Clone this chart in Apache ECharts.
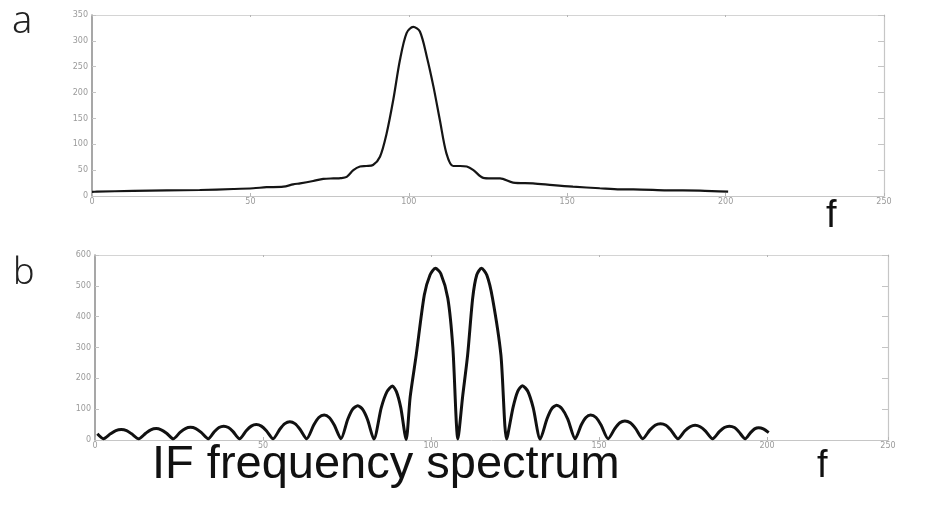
<!DOCTYPE html>
<html>
<head>
<meta charset="utf-8">
<script src="https://cdn.jsdelivr.net/npm/echarts@6/dist/echarts.min.js"></script>
<style>
html,body{margin:0;padding:0;background:#fff;}
#c{width:952px;height:512px;}
</style>
</head>
<body>
<div id="c"></div>
<script>
// ---- panel a: spectrum (f, amplitude) ----
const fA = [0, 1.5, 13, 23.6, 34, 44.6, 50.9, 55.1, 60.4, 63.5, 65.7, 69.8, 73, 76.2, 78.5, 80.4, 82.5, 84.6, 86.6, 88.7, 90.9, 93, 95.1, 97.2, 99.3, 101.4, 103.5, 105.7, 107.8, 109.8, 111.9, 114, 116.2, 118.3, 120.4, 123.5, 126, 128.8, 132.9, 139.2, 145.5, 151.8, 160.3, 166.7, 170.9, 181.4, 191.9, 200.8];
const vA = [8, 8.3, 10, 10.8, 11.6, 13.5, 15, 17, 18, 22.5, 24.5, 29, 33, 34, 34.5, 37, 50, 57, 58, 60, 76, 121, 186, 263, 315, 327, 318, 269, 211, 147, 82, 58, 58, 57, 50, 35, 34, 34, 26, 24.5, 21, 18, 15, 13, 13, 11, 10.5, 8.5];

// ---- panel b: spectrum (f, amplitude) ----
const fB = [0.7, 2.5, 4.6, 6.2, 7.8, 9.4, 10.9, 13, 15.1, 16.6, 18.2, 19.7, 21.3, 23.3, 25.3, 26.9, 28.4, 30, 31.6, 33.7, 35.5, 36.9, 38.3, 39.7, 41.1, 43, 45, 46.5, 48, 49.5, 51, 53, 55, 56.5, 58, 59.5, 61, 63, 65.1, 66.6, 68.2, 69.7, 71.2, 73.2, 75.2, 76.7, 78.2, 79.6, 81.1, 83, 85.2, 86.9, 88.5, 89.7, 91, 92.6, 93.8, 95.6, 98, 99.7, 101.3, 102.9, 105, 106.5, 108, 109.4, 110.9, 112.4, 113.6, 115, 116.6, 118.3, 120.8, 122.5, 124.4, 125.8, 127.2, 128.8, 130.4, 132.5, 134.5, 135.9, 137.4, 139, 140.7, 142.9, 144.7, 146.1, 147.5, 149.1, 150.6, 152.7, 154.7, 156.2, 157.7, 159.3, 160.9, 163, 165.1, 166.7, 168.3, 169.9, 171.4, 173.5, 175.5, 177.1, 178.6, 180.1, 181.7, 183.8, 185.8, 187.3, 188.8, 190.3, 191.6, 193.5, 195.1, 196.3, 197.5, 198.9, 200.5];
const vB = [20, 4, 20, 30.5, 34, 30.5, 20, 4, 22, 33, 37, 33, 22, 4, 24.5, 37, 41, 37, 24.5, 4, 27, 40.5, 45, 40.5, 27, 4, 30, 45, 50, 45, 30, 4, 35, 53, 59, 53, 35, 4, 48.5, 73, 81, 73, 48.5, 4, 66.5, 100, 111, 100, 66.5, 3, 105, 157, 175, 157, 105, 2, 140, 276, 470, 535, 557, 540, 460, 300, 3, 140, 276, 460, 535, 557, 535, 460, 276, 3, 105, 158, 176, 158, 105, 3, 68, 101, 113, 101, 68, 4, 48.5, 73, 81, 73, 48.5, 4, 37, 56, 62, 56, 37, 4, 32, 48, 53, 48, 32, 4, 29, 43, 48, 43, 29, 4, 27, 40.5, 45, 40.5, 27, 4, 24, 36, 40, 36, 24];

// axis tick settings
const xTicksA = [0, 50, 100, 150, 200, 250];
const yTicksA = [0, 50, 100, 150, 200, 250, 300, 350];
const xTicksB = [0, 50, 100, 150, 200, 250];
const yTicksB = [0, 100, 200, 300, 400, 500, 600];
const xEndB = 236; // where the right frame of panel b sits on its (compressed) f scale

const labelStyle = {fontSize: 8, color: '#9a9a9a', fontFamily: 'DejaVu Sans'};
const step = a => a[1] - a[0];
const last = a => a[a.length - 1];

function mainX(grid, min, max, interval, fmt) {
  return {
    type: 'value', gridIndex: grid, min: min, max: max, interval: interval,
    axisLine: {show: true, onZero: false, lineStyle: {color: '#c6c6c6', width: 1}},
    axisTick: {show: true, inside: true, length: 3, lineStyle: {color: '#b5b5b5'}},
    axisLabel: Object.assign({margin: 2, showMaxLabel: true, showMinLabel: true, formatter: fmt}, labelStyle),
    splitLine: {show: false}
  };
}
function mirrorX(grid, min, max, interval) {
  return {
    type: 'value', gridIndex: grid, position: 'top', min: min, max: max, interval: interval,
    axisLine: {show: true, onZero: false, lineStyle: {color: '#d4d4d4', width: 1.2}},
    axisTick: {show: true, inside: true, length: 2, lineStyle: {color: '#b5b5b5'}},
    axisLabel: {show: false}, splitLine: {show: false}
  };
}
function mainY(grid, max, interval) {
  return {
    type: 'value', gridIndex: grid, min: 0, max: max, interval: interval,
    axisLine: {show: true, onZero: false, lineStyle: {color: '#8a8a8a', width: 1.5}},
    axisTick: {show: true, inside: true, length: 4, lineStyle: {color: '#c4c4c4'}},
    axisLabel: Object.assign({margin: 4}, labelStyle),
    splitLine: {show: false}
  };
}
function mirrorY(grid, max, interval) {
  return {
    type: 'value', gridIndex: grid, position: 'right', min: 0, max: max, interval: interval,
    axisLine: {show: true, onZero: false, lineStyle: {color: '#c6c6c6', width: 1.2}},
    axisTick: {show: true, inside: true, length: 6, lineStyle: {color: '#c4c4c4'}},
    axisLabel: {show: false}, splitLine: {show: false}
  };
}

const labelsB = xTicksB.map(String);
const option = {
  backgroundColor: '#fff',
  animation: false,
  grid: [
    {left: 92, top: 15, width: 792, height: 181},
    {left: 95, top: 255, width: 793, height: 185}
  ],
  xAxis: [
    mainX(0, xTicksA[0], last(xTicksA), step(xTicksA), v => String(v)),
    mirrorX(0, xTicksA[0], last(xTicksA), step(xTicksA)),
    mainX(1, xTicksB[0], xEndB, step(xTicksB), v => (v > xTicksB[xTicksB.length - 2] ? last(labelsB) : String(v))),
    mirrorX(1, xTicksB[0], xEndB, step(xTicksB))
  ],
  yAxis: [
    mainY(0, last(yTicksA), step(yTicksA)),
    mirrorY(0, last(yTicksA), step(yTicksA)),
    mainY(1, last(yTicksB), step(yTicksB)),
    mirrorY(1, last(yTicksB), step(yTicksB))
  ],
  series: [
    {
      type: 'line', xAxisIndex: 0, yAxisIndex: 0, symbol: 'none', smooth: 0.3,
      lineStyle: {color: '#151515', width: 2.2},
      data: fA.map((f, i) => [f, vA[i]])
    },
    {
      type: 'line', xAxisIndex: 2, yAxisIndex: 2, symbol: 'none', smooth: 0.25,
      lineStyle: {color: '#111', width: 3},
      data: fB.map((f, i) => [f, vB[i]])
    }
  ],
  graphic: [
    {type: 'text', x: 12, y: 22, style: {text: 'a', font: '300 38px "Noto Sans"', fill: '#222', verticalAlign: 'middle'}},
    {type: 'text', x: 13, y: 274, style: {text: 'b', font: '300 36px "Noto Sans"', fill: '#222', verticalAlign: 'middle'}},
    {type: 'text', x: 826, y: 217, style: {text: 'f', font: '38px "Liberation Sans"', fill: '#111', verticalAlign: 'middle'}},
    {type: 'text', x: 817, y: 467, style: {text: 'f', font: '38px "Liberation Sans"', fill: '#111', verticalAlign: 'middle'}},
    {type: 'text', x: 152, y: 465, style: {text: 'IF frequency spectrum', font: '47px "Liberation Sans"', fill: '#111', verticalAlign: 'middle'}}
  ]
};
const chart = echarts.init(document.getElementById('c'), null, {renderer: 'canvas'});
chart.setOption(option);
</script>
</body>
</html>
